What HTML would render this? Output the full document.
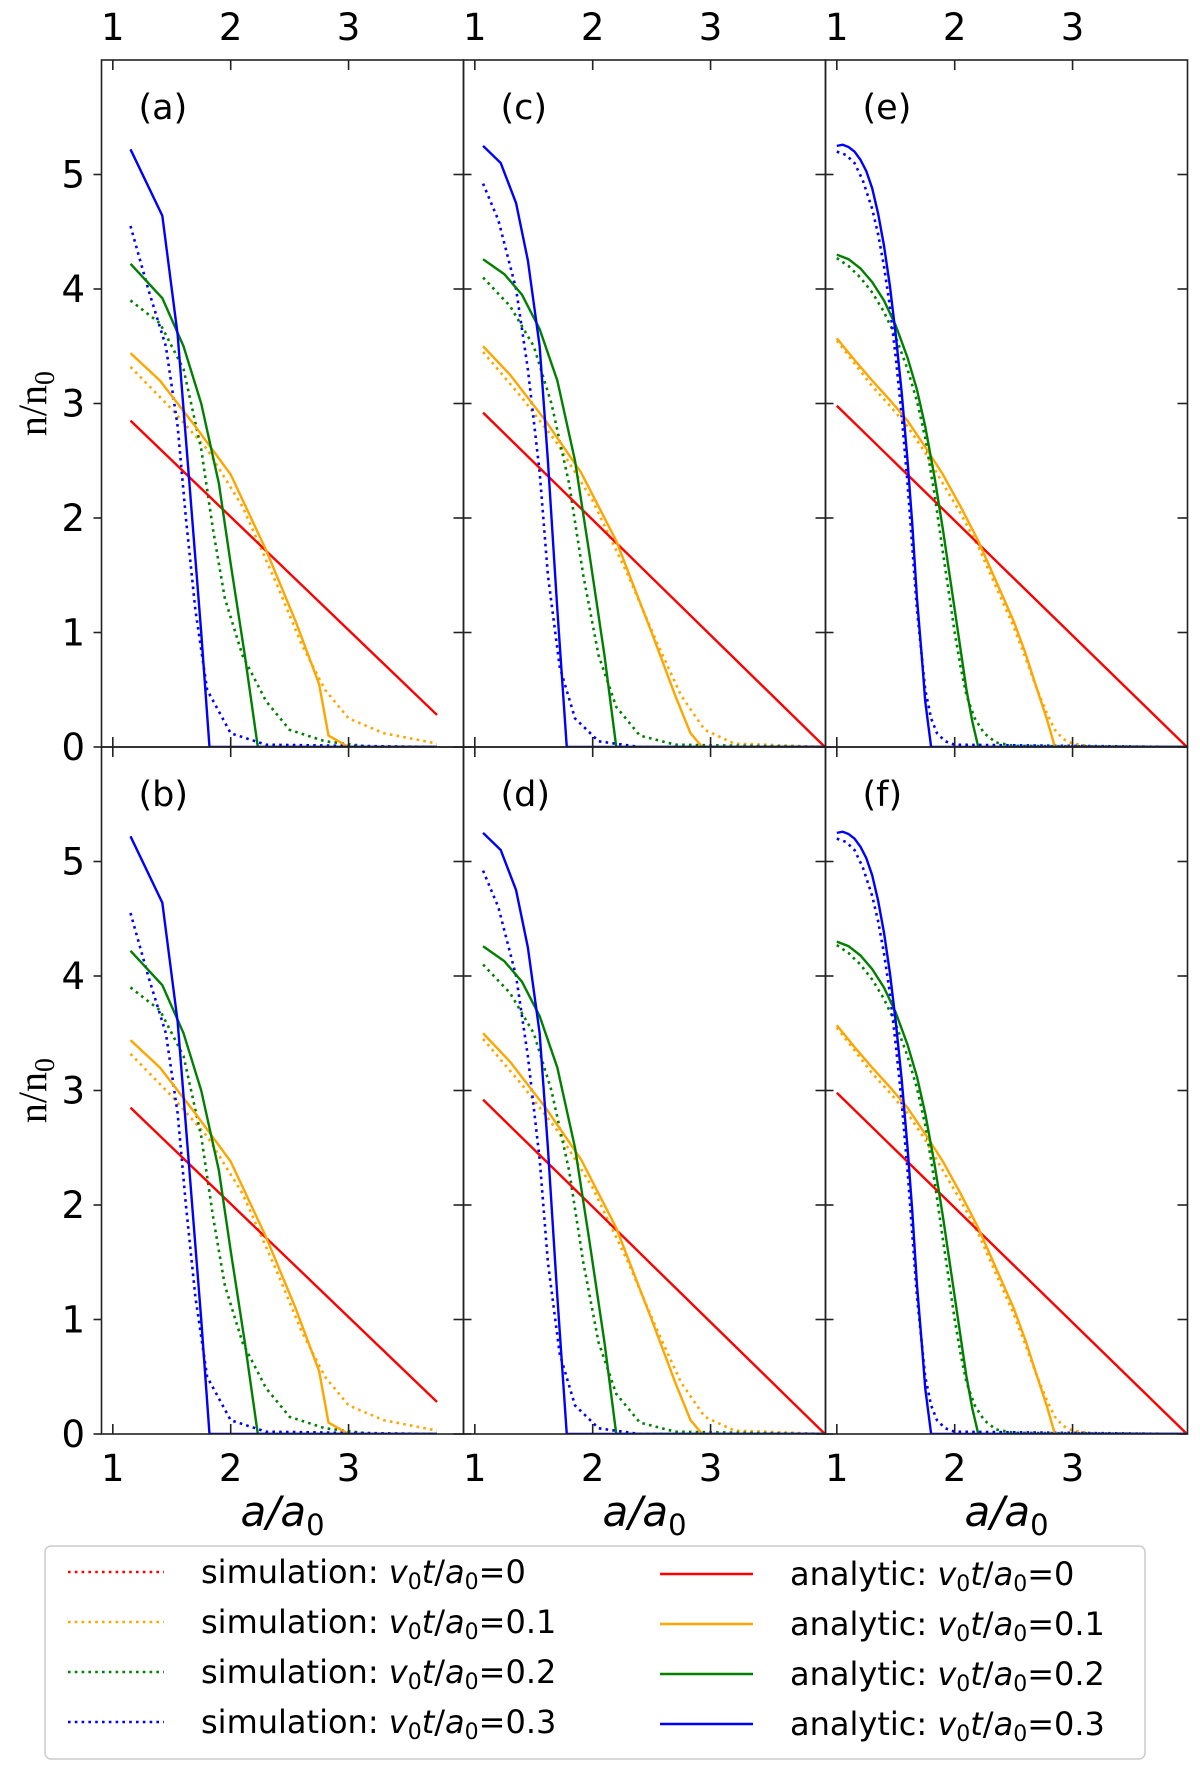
<!DOCTYPE html>
<html><head><meta charset="utf-8"><style>
body{margin:0;background:#fff;}
svg{display:block;font-family:"DejaVu Sans","Liberation Sans",sans-serif;}
</style></head><body>
<svg id="chart" width="1200" height="1777" viewBox="0 0 1200 1777" xmlns="http://www.w3.org/2000/svg"></svg>
<script>
const xTicks=[1,2,3];
const yTicks=[0,1,2,3,4,5];
const panelLabels=["(a)","(b)","(c)","(d)","(e)","(f)"];
const seriesNames=["0","0.1","0.2","0.3"];
const colors=["#ff0000","#ffa500","#008000","#0000ff"];
const redA=[[1.15,2.85],[3.75,0.28]];
const orangeA=[[1.15,3.44],[1.4,3.2],[1.7,2.8],[2.0,2.38],[2.3,1.72],[2.55,1.1],[2.75,0.55],[2.83,0.1],[3.0,0],[3.75,0]];
const greenA=[[1.15,4.22],[1.42,3.92],[1.6,3.5],[1.75,3.0],[1.9,2.3],[2.0,1.6],[2.12,0.8],[2.23,0],[3.75,0]];
const blueA=[[1.15,5.22],[1.42,4.64],[1.55,3.6],[1.65,2.3],[1.75,1.0],[1.82,0],[3.75,0]];
const simOrangeA=[[1.15,3.32],[1.5,2.95],[1.8,2.6],[2.1,2.1],[2.4,1.4],[2.6,0.9],[2.8,0.5],[3.0,0.25],[3.3,0.12],[3.75,0.03]];
const simGreenA=[[1.15,3.9],[1.4,3.7],[1.6,3.3],[1.75,2.6],[1.85,1.9],[1.95,1.3],[2.1,0.8],[2.3,0.4],[2.5,0.15],[2.8,0.05],[3.2,0],[3.75,0]];
const simBlueA=[[1.15,4.55],[1.3,4.0],[1.45,3.5],[1.55,2.8],[1.62,2.0],[1.7,1.2],[1.8,0.5],[2.0,0.12],[2.3,0.02],[3.75,0]];
const redC=[[1.07,2.92],[3.97,0]];
const orangeC=[[1.07,3.5],[1.3,3.25],[1.6,2.85],[1.9,2.4],[2.2,1.8],[2.5,1.0],[2.7,0.45],[2.83,0.12],[2.93,0],[3.97,0]];
const greenC=[[1.07,4.26],[1.25,4.13],[1.4,3.95],[1.55,3.65],[1.7,3.2],[1.85,2.5],[1.97,1.7],[2.1,0.8],[2.2,0],[3.97,0]];
const blueC=[[1.07,5.25],[1.22,5.1],[1.35,4.75],[1.45,4.25],[1.55,3.5],[1.62,2.5],[1.7,1.2],[1.78,0],[3.97,0]];
const simOrangeC=[[1.07,3.45],[1.4,3.05],[1.7,2.65],[2.0,2.15],[2.3,1.5],[2.55,0.9],[2.75,0.45],[2.95,0.15],[3.2,0.03],[3.97,0]];
const simGreenC=[[1.07,4.1],[1.3,3.85],[1.5,3.5],[1.65,3.0],[1.8,2.3],[1.92,1.5],[2.05,0.8],[2.2,0.35],[2.4,0.1],[2.7,0.02],[3.97,0]];
const simBlueC=[[1.07,4.92],[1.2,4.6],[1.35,4.0],[1.45,3.3],[1.55,2.4],[1.62,1.5],[1.72,0.7],[1.85,0.25],[2.05,0.05],[2.4,0],[3.97,0]];
const redE=[[1.0,2.98],[3.97,0]];
const orangeE=[[1.0,3.57],[1.15,3.38],[1.3,3.2],[1.45,3.03],[1.6,2.85],[1.75,2.62],[1.9,2.38],[2.05,2.1],[2.2,1.8],[2.35,1.45],[2.5,1.1],[2.6,0.82],[2.7,0.5],[2.78,0.25],[2.85,0],[3.97,0]];
const greenE=[[1.0,4.3],[1.1,4.26],[1.2,4.18],[1.3,4.06],[1.4,3.9],[1.5,3.68],[1.6,3.4],[1.68,3.12],[1.75,2.8],[1.83,2.35],[1.9,1.9],[1.95,1.55],[2.0,1.2],[2.05,0.85],[2.1,0.5],[2.15,0.22],[2.2,0],[3.97,0]];
const blueE=[[1.0,5.25],[1.05,5.26],[1.1,5.24],[1.15,5.2],[1.2,5.13],[1.25,5.03],[1.3,4.88],[1.35,4.66],[1.4,4.38],[1.45,4.03],[1.5,3.6],[1.55,3.1],[1.6,2.5],[1.64,1.95],[1.68,1.3],[1.72,0.8],[1.75,0.4],[1.8,0],[3.97,0]];
const simOrangeE=[[1.0,3.55],[1.15,3.35],[1.3,3.15],[1.45,2.98],[1.6,2.8],[1.75,2.57],[1.9,2.3],[2.05,2.04],[2.2,1.75],[2.35,1.4],[2.5,1.05],[2.6,0.78],[2.7,0.5],[2.78,0.3],[2.85,0.15],[2.92,0.07],[3.0,0.03],[3.2,0],[3.97,0]];
const simGreenE=[[1.0,4.27],[1.1,4.2],[1.2,4.1],[1.3,3.97],[1.4,3.8],[1.5,3.58],[1.6,3.3],[1.68,3.02],[1.75,2.7],[1.83,2.2],[1.9,1.7],[1.95,1.35],[2.0,1.0],[2.05,0.7],[2.1,0.45],[2.17,0.25],[2.25,0.12],[2.35,0.04],[2.5,0.01],[3.97,0]];
const simBlueE=[[1.0,5.2],[1.08,5.17],[1.15,5.1],[1.22,4.95],[1.3,4.7],[1.35,4.48],[1.4,4.2],[1.45,3.85],[1.5,3.4],[1.55,2.9],[1.6,2.3],[1.64,1.75],[1.68,1.2],[1.72,0.8],[1.75,0.5],[1.8,0.25],[1.85,0.12],[1.92,0.05],[2.0,0.02],[3.97,0]];

const NS="http://www.w3.org/2000/svg";
const svg=document.getElementById('chart');
function mk(tag,attrs,parent){const e=document.createElementNS(NS,tag);for(const k in attrs)e.setAttribute(k,attrs[k]);(parent||svg).appendChild(e);return e;}
const colX=[101.5,463.5,825.5], PW=362;
const rowY=[60,747], PH=687;
const XMIN=0.904,XMAX=3.975,YMIN=0,YMAX=6;
function sx(p,v){return colX[p]+(v-XMIN)/(XMAX-XMIN)*PW;}
function sy(r,v){return rowY[r]+PH-(v-YMIN)/(YMAX-YMIN)*PH;}
const panelSets=[
 {a:[redA,orangeA,greenA,blueA],s:[simOrangeA,simGreenA,simBlueA]},
 {a:[redC,orangeC,greenC,blueC],s:[simOrangeC,simGreenC,simBlueC]},
 {a:[redE,orangeE,greenE,blueE],s:[simOrangeE,simGreenE,simBlueE]}];
for(let c=0;c<3;c++){for(let r=0;r<2;r++){
 const g=mk('g',{});
 
 
 const clipId='clip'+c+r;
 const cp=mk('clipPath',{id:clipId},g);mk('rect',{x:colX[c],y:rowY[r],width:PW,height:PH},cp);
 const dg=mk('g',{'clip-path':'url(#'+clipId+')'},g);
 const set=panelSets[c];
 set.s.forEach((d,i)=>{const p=mk('polyline',{points:d.map(q=>sx(c,q[0])+','+sy(r,q[1])).join(' '),fill:'none',stroke:colors[i+1],'stroke-width':2.6,'stroke-dasharray':'2.6 4.2'},dg);
  });
 set.a.forEach((d,i)=>{const p=mk('polyline',{points:d.map(q=>sx(c,q[0])+','+sy(r,q[1])).join(' '),fill:'none',stroke:colors[i],'stroke-width':2.4},dg);
  });
 mk('rect',{x:colX[c],y:rowY[r],width:PW,height:PH,fill:'none',stroke:'#222','stroke-width':1.6},g);
 xTicks.forEach(t=>{const x=sx(c,t);
  mk('line',{x1:x,x2:x,y1:rowY[r],y2:rowY[r]+10,stroke:'#222','stroke-width':1.6},g);
  mk('line',{x1:x,x2:x,y1:rowY[r]+PH,y2:rowY[r]+PH-10,stroke:'#222','stroke-width':1.6},g);});
 yTicks.forEach(t=>{const y=sy(r,t);
  mk('line',{x1:colX[c],x2:colX[c]+(c==0?-8:8),y1:y,y2:y,stroke:'#222','stroke-width':1.6},g);
  mk('line',{x1:colX[c]+PW,x2:colX[c]+PW-10,y1:y,y2:y,stroke:'#222','stroke-width':1.6},g);});
 const lb=mk('text',{x:colX[c]+37,y:rowY[r]+59,'font-size':35,fill:'#000'},g);lb.textContent=panelLabels[c*2+r];
 
}
 xTicks.forEach(t=>{
  const a=mk('text',{x:sx(c,t),y:40,'font-size':37,'text-anchor':'middle'});a.textContent=t;
  
  const b=mk('text',{x:sx(c,t),y:1481,'font-size':37,'text-anchor':'middle'});b.textContent=t;
  });
 const xl=mk('text',{x:colX[c]+PW/2,y:1526,'font-size':42,'text-anchor':'middle','font-style':'italic'});
 xl.innerHTML='a/a<tspan font-size="29" dy="9" font-style="normal">0</tspan>';
 
}
for(let r=0;r<2;r++){
 yTicks.forEach(t=>{const e=mk('text',{x:85,y:sy(r,t)+13,'font-size':37,'text-anchor':'end'});e.textContent=t;
  });
 const yl=mk('text',{transform:'translate(46,'+(rowY[r]+PH/2)+') rotate(-90)','font-size':40,'text-anchor':'middle','font-family':'"Liberation Serif",serif'});
 yl.innerHTML='n/n<tspan font-size="28" dy="8">0</tspan>';
 
}
const lg=mk('g',{});

mk('rect',{x:45,y:1546,width:1100,height:213,rx:6,fill:'#fff',stroke:'#ccc','stroke-width':1.5},lg);
const rowsY=[1572,1622,1672,1722];
seriesNames.forEach((n,i)=>{
 const l1=mk('line',{x1:68,x2:164,y1:rowsY[i],y2:rowsY[i],stroke:colors[i],'stroke-width':2.6,'stroke-dasharray':'2.6 4.2'},lg);
 
 const t1=mk('text',{x:201,y:rowsY[i]+11,'font-size':32},lg);
 t1.innerHTML='simulation: <tspan font-style="italic">v</tspan><tspan font-size="22" dy="6">0</tspan><tspan dy="-6" font-style="italic">t</tspan>/<tspan font-style="italic">a</tspan><tspan font-size="22" dy="6">0</tspan><tspan dy="-6">=</tspan>'+n;
 const l2=mk('line',{x1:660,x2:753,y1:rowsY[i]+2,y2:rowsY[i]+2,stroke:colors[i],'stroke-width':2.6},lg);
 
 const t2=mk('text',{x:790,y:rowsY[i]+13,'font-size':32},lg);
 t2.innerHTML='analytic: <tspan font-style="italic">v</tspan><tspan font-size="22" dy="6">0</tspan><tspan dy="-6" font-style="italic">t</tspan>/<tspan font-style="italic">a</tspan><tspan font-size="22" dy="6">0</tspan><tspan dy="-6">=</tspan>'+n;
});
</script>
</body></html>
